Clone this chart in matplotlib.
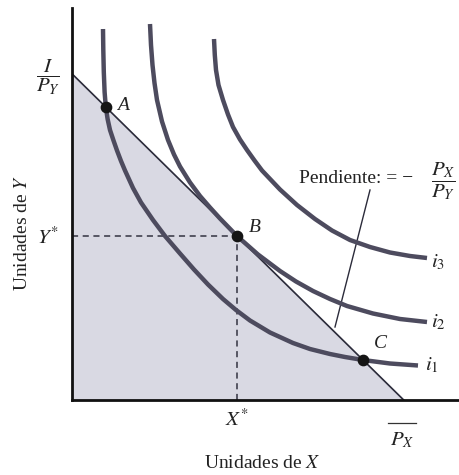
import numpy as np
import matplotlib
matplotlib.use("Agg")
import matplotlib.pyplot as plt

plt.rcParams['font.family'] = ['Liberation Serif', 'DejaVu Serif']
plt.rcParams['mathtext.fontset'] = 'stix'

# units of X and Y
X_MAX = 387
Y_MAX = 392

# budget line intercepts: I/P_Y on the Y axis, I/P_X on the X axis
Y_INT = 326.2
X_INT = 331.7

# indifference curves i1, i2, i3
i1_x = [31, 31.3, 31.8, 32.6, 33.8, 35.6, 38, 41.5, 45, 49, 53, 61, 69, 81, 93, 108,
        122, 136, 151, 164, 178, 198, 221, 238, 258, 273, 291, 318, 346]
i1_y = [371, 350, 328, 308, 293, 281, 270, 259.5, 249.5, 239, 229.5, 212, 197.5, 180,
        164, 146.5, 130.5, 115.5, 101, 90, 79.5, 67.5, 57, 51, 46, 43, 40, 36.5, 34.5]

i2_x = [78, 79, 80.5, 82.5, 85, 90, 96, 102, 108, 118, 128, 138, 148, 165, 186, 208,
        224, 241, 258, 275, 301, 328, 355]
i2_y = [376, 355, 335, 317, 300, 278.5, 260, 245.5, 233.5, 217.5, 204, 192.5, 181.5,
        164, 145.5, 129, 118.5, 109, 101, 94, 86.5, 81, 78]

i3_x = [142, 142.8, 144, 146.5, 151, 156, 161, 168, 175, 182.5, 190, 199, 208, 225,
        243, 260, 278, 298, 318, 338, 355]
i3_y = [361, 345, 330, 315, 300, 285.5, 273, 260.5, 250, 239.5, 229.5, 220, 210.5,
        195, 181, 169.5, 160, 153, 147.5, 144, 142]

# points A, B, C
pt_x = [33.8, 165, 291]
pt_y = [293, 164, 40]

CURVE = '#4d4b5e'
INK = '#222222'

fig = plt.figure(figsize=(4.59, 4.75), dpi=100)
ax = fig.add_axes([72/459, 75/475, 387/459, 392/475])
ax.set_xlim(0, X_MAX)
ax.set_ylim(0, Y_MAX)
for s in ['top', 'right']:
    ax.spines[s].set_visible(False)
for s in ['left', 'bottom']:
    ax.spines[s].set_linewidth(2.0)
    ax.spines[s].set_color('#111111')
ax.set_xticks([])
ax.set_yticks([])

# shaded budget set
ax.fill([0, 0, X_INT], [0, Y_INT, 0], color='#d9d9e3', zorder=1)
ax.plot([0, X_INT], [Y_INT, 0], color='#2b2b3a', lw=1.2, zorder=2)

# dashed lines to B
ax.plot([0, pt_x[1]], [pt_y[1], pt_y[1]], ls=(0, (4, 3)), color='#333340', lw=1.1, zorder=2)
ax.plot([pt_x[1], pt_x[1]], [0, pt_y[1]], ls=(0, (4, 3)), color='#333340', lw=1.1, zorder=2)

for xs, ys in [(i1_x, i1_y), (i2_x, i2_y), (i3_x, i3_y)]:
    ax.plot(xs, ys, color=CURVE, lw=3.2, solid_capstyle='butt', solid_joinstyle='round', zorder=3)

ax.scatter(pt_x, pt_y, s=55, color='#151515', zorder=4)

tk = dict(fontsize=14, style='italic', color=INK, ha='center', va='center')
ax.text(51, 295, 'A', **tk)
ax.text(183, 173, 'B', **tk)
ax.text(308, 57, 'C', **tk)

lk = dict(fontsize=15, ha='center', va='center', color=INK, clip_on=False)
ax.text(366, 138, '$i_3$', **lk)
ax.text(366, 78, '$i_2$', **lk)
ax.text(360, 35, '$i_1$', **lk)

# slope leader
ax.plot([298, 263], [210, 73], color='#2b2b3a', lw=1.0, zorder=2)
ax.text(341, 222, 'Pendiente: = \u2212', fontsize=14, ha='right', va='center', color=INK)
ax.text(371, 219, r'$\dfrac{P_X}{P_Y}$', **lk)

# axis labels
ax.text(-24, 323, r'$\dfrac{I}{P_Y}$', **lk)
ax.text(-24, 162, '$Y^{*}$', **lk)
ax.text(165, -20, '$X^{*}$', **lk)
ax.plot([316, 344], [-23, -23], color='#333333', lw=0.9, clip_on=False)
ax.text(330, -40, '$P_X$', **lk)

ax.text(190, -63, 'Unidades de $X$', fontsize=14, ha='center', va='center',
        color=INK, clip_on=False)
ax.text(-49, 167, 'Unidades de $Y$', fontsize=14, ha='center', va='center',
        rotation=90, color=INK, clip_on=False)

fig.savefig('out.png', dpi=100)
